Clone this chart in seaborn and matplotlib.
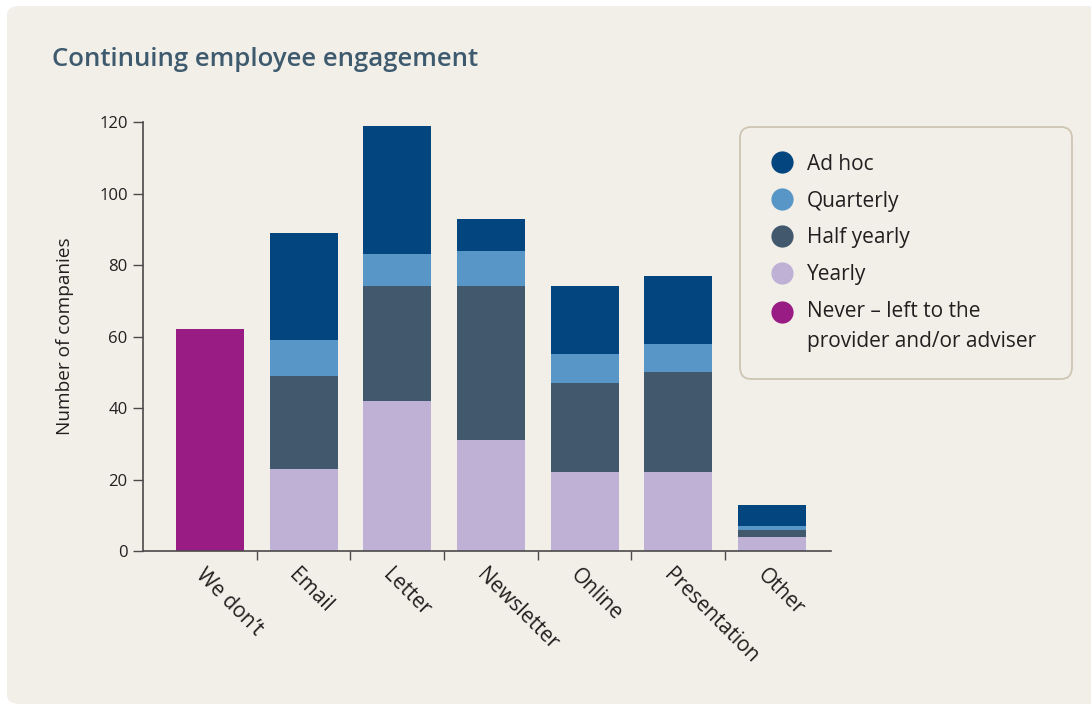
import numpy as np
import pandas as pd
import matplotlib
matplotlib.use("Agg")
import matplotlib.pyplot as plt
import matplotlib.transforms as mtransforms
from matplotlib.lines import Line2D
from matplotlib.patches import FancyBboxPatch
from matplotlib.legend_handler import HandlerLine2D
import seaborn as sns

# ---- data -------------------------------------------------------------
categories = ["We don\u2019t", "Email", "Letter", "Newsletter", "Online", "Presentation", "Other"]
yearly      = [0, 23, 42, 31, 22, 22, 4]
half_yearly = [0, 26, 32, 43, 25, 28, 2]
quarterly   = [0, 10,  9, 10,  8,  8, 1]
ad_hoc      = [0, 30, 36,  9, 19, 19, 6]
never       = [62, 0, 0, 0, 0, 0, 0]

series_names = ["Ad hoc", "Quarterly", "Half yearly", "Yearly",
                "Never \u2013 left to the\nprovider and/or adviser"]
series_colors = ["#02457F", "#5796C6", "#42596D", "#BFB0D5", "#981C84"]
y_ticks = [0, 20, 40, 60, 80, 100, 120]

PANEL = "#F2EFE8"
TEXT = "#231F20"
TITLE = "#3E5A6E"

sns.set_theme(style="white")
plt.rcParams["font.family"] = ["Open Sans", "DejaVu Sans"]

fig = plt.figure(figsize=(10.91, 7.04), dpi=100, facecolor="white")

# rounded background panel
panel = FancyBboxPatch((7 / 1091, 0.0), 1.2, 1 - 6 / 704,
                       boxstyle="round,pad=0,rounding_size=0.012",
                       transform=fig.transFigure, facecolor=PANEL,
                       edgecolor="none", zorder=-10)
fig.patches.append(panel)

ax = fig.add_axes([143 / 1091, 1 - 551 / 704, 688 / 1091, 429 / 704])
ax.set_facecolor("none")
ax.set_zorder(1)

df = pd.DataFrame({
    "category": categories,
    "Yearly": yearly,
    "Half yearly": half_yearly,
    "Quarterly": quarterly,
    "Ad hoc": ad_hoc,
    "Never": never,
})
layers = ["Yearly", "Half yearly", "Quarterly", "Ad hoc"]
cum = df[layers].cumsum(axis=1)

# stacked bars: draw cumulative totals from the top layer down
bar_w = 0.726
for name, color in zip(["Ad hoc", "Quarterly", "Half yearly", "Yearly"],
                       series_colors[:4]):
    sns.barplot(x=df["category"], y=cum[name], order=categories, color=color,
                saturation=1, width=bar_w, linewidth=0, ax=ax)
sns.barplot(x=df["category"], y=df["Never"], order=categories,
            color=series_colors[4], saturation=1, width=bar_w,
            linewidth=0, ax=ax)

# axes styling
ax.set_xlim(-0.715, 6.63)
ax.set_ylim(0, 120)
ax.set_yticks(y_ticks)
ax.set_yticklabels([str(v) for v in y_ticks], fontsize=12, color=TEXT)
ax.set_xlabel("")
ax.set_ylabel("Number of companies", fontsize=13.7, color=TEXT, labelpad=18)
for side in ["top", "right"]:
    ax.spines[side].set_visible(False)
for side in ["left", "bottom"]:
    ax.spines[side].set_color("#4A4A4A")
    ax.spines[side].set_linewidth(1.2)
ax.tick_params(axis="y", which="major", direction="out", length=7,
               width=1.0, color="#4A4A4A", pad=4, left=True)
ax.tick_params(axis="x", which="major", length=0, pad=10)
ax.set_xticks(np.arange(len(categories) - 1) + 0.5, minor=True)
ax.tick_params(axis="x", which="minor", direction="out", length=6.5,
               width=1.0, color="#4A4A4A", bottom=True)

offset = mtransforms.ScaledTranslation(-4 / 100, 0, fig.dpi_scale_trans)
for lab in ax.get_xticklabels():
    lab.set_rotation(-45)
    lab.set_rotation_mode("anchor")
    lab.set_ha("left")
    lab.set_va("top")
    lab.set_fontsize(15)
    lab.set_color(TEXT)
    lab.set_transform(lab.get_transform() + offset)

# title
fig.text(52 / 1091, 1 - 60 / 704, "Continuing employee engagement",
         fontsize=18.5, fontweight="semibold", color=TITLE, va="center",
         ha="left")


class FirstLineHandler(HandlerLine2D):
    """Places the legend marker level with the first line of a label."""

    def __init__(self, lift=0.0, **kw):
        super().__init__(**kw)
        self.lift = lift

    def create_artists(self, legend, orig_handle, xdescent, ydescent,
                       width, height, fontsize, trans):
        arts = super().create_artists(legend, orig_handle, xdescent, ydescent,
                                      width, height, fontsize, trans)
        for a in arts:
            a.set_ydata(np.asarray(a.get_ydata(), dtype=float) + self.lift)
        return arts


handles = [Line2D([], [], ls="", marker="o", markersize=16,
                  markerfacecolor=c, markeredgewidth=0) for c in series_colors]
handler_map = {handles[-1]: FirstLineHandler(lift=11.3, numpoints=1)}
x0, x1 = 740 / 1091, 1072 / 1091
y_top = 1 - 127 / 704
leg = fig.legend(handles, series_names, loc="upper left",
                 bbox_to_anchor=(x0, y_top - 0.3, x1 - x0, 0.3),
                 mode="expand", fontsize=15, frameon=True, fancybox=True,
                 borderpad=1.285, handlelength=1.47, handletextpad=0.465,
                 labelspacing=0.76, borderaxespad=0, numpoints=1,
                 handler_map=handler_map)
for t in leg.get_texts():
    t.set_color(TEXT)
leg.get_texts()[-1].set_linespacing(1.55)
frame = leg.get_frame()
frame.set_facecolor(PANEL)
frame.set_edgecolor("#CEC5B3")
frame.set_linewidth(1.3)
frame.set_alpha(1)
frame.set_boxstyle("round,pad=0,rounding_size=0.55")

fig.savefig("out.png", dpi=100, facecolor="white")
